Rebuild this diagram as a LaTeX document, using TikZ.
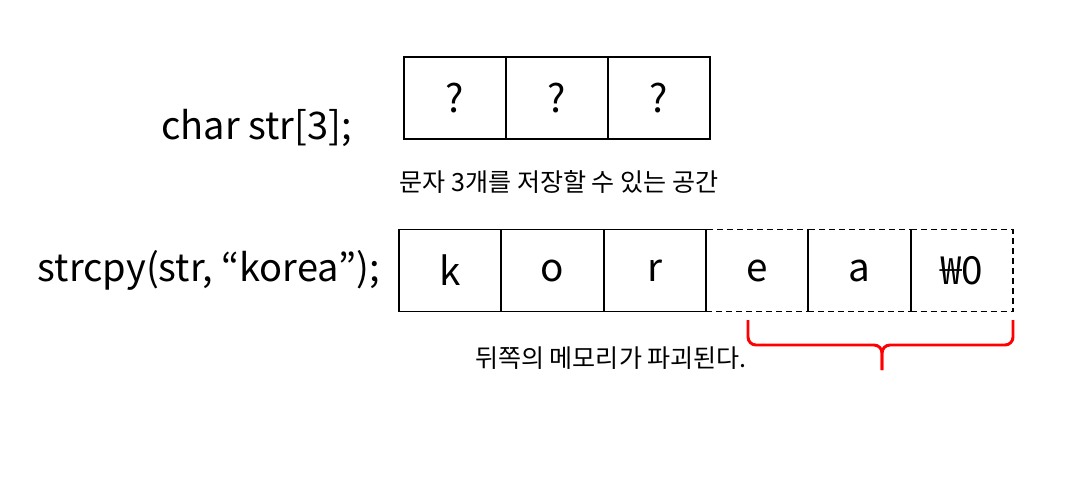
\documentclass[tikz,border=0pt]{standalone}
\usepackage{fontspec}
\setmainfont{Noto Sans CJK KR}
\usetikzlibrary{positioning}

\tikzset{
  cell/.style={draw,line width=1.4pt,minimum width=76.7pt,minimum height=61.5pt,
    inner sep=0pt,font=\fontsize{29}{32}\selectfont},
  gone/.style={cell,dash pattern=on 4.5pt off 3pt},
  code/.style={inner sep=0pt,font=\fontsize{28.5}{32}\selectfont},
  note/.style={inner sep=0pt,font=\fontsize{18.8}{22}\selectfont},
}

\begin{document}
\begin{tikzpicture}[x=0.75pt,y=-0.75pt]
  \useasboundingbox (0,0) rectangle (1074,476);

  % char str[3];
  \node (q1)[cell] at (455,98)  {?};
  \node (q2)[cell] at (557,98)  {?};
  \node (q3)[cell] at (659,98)  {?};
  \node (decl)[code,anchor=east] at (352,128) {char str[3];};
  \node (space)[note] at (559,182) {문자 3개를 저장할 수 있는 공간};

  % strcpy(str, "korea");
  \node (c1)[cell] at (450.2,270.5) {k};
  \node (c2)[cell] at (552.5,270.5) {o};
  \node (c3)[cell] at (654.8,270.5) {r};
  \node (c4)[gone] at (757.2,270.5) {e};
  \node (c5)[gone] at (859.5,270.5) {a};
  \node (c6)[gone] at (961.8,270.5) {₩0};
  \node (copy)[code,anchor=east] at (380,270.5) {strcpy(str, “korea”);};

  % overflow
  \coordinate (bl) at (748,320);
  \coordinate (br) at (1013,320);
  \coordinate (bm) at (882,345);
  \coordinate (bt) at (882,370);
  \draw[red,line width=2.2pt,rounded corners=6pt]
    (bl) |- (bm) -- (bt);
  \draw[red,line width=2.2pt,rounded corners=6pt]
    (br) |- (bm) -- (bt);
  \node (lost)[note] at (611,358) {뒤쪽의 메모리가 파괴된다.};
\end{tikzpicture}
\end{document}
